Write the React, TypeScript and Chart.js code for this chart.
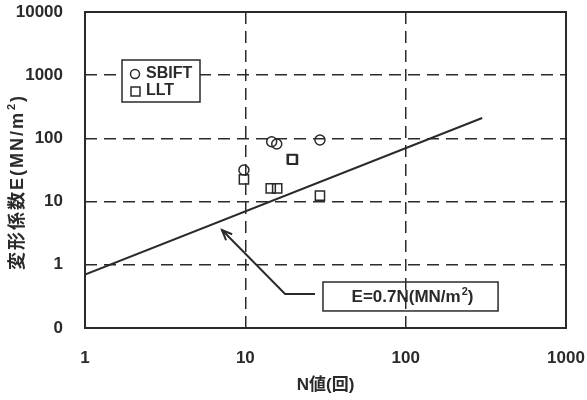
import { useEffect, useRef } from "react";
import { Chart, registerables } from "chart.js";
Chart.register(...registerables);

const xTickValues = [1, 10, 100, 1000];
const xTickLabels = ["1", "10", "100", "1000"];
const yTickValues = [0.1, 1, 10, 100, 1000, 10000];
const yTickLabels = ["0", "1", "10", "100", "1000", "10000"];
const seriesNames = ["SBIFT", "LLT"];
const sbiftN = [9.8, 14.6, 15.7, 29.2];
const sbiftE = [31.6, 88.7, 81.5, 94.5];
const lltN = [9.8, 14.4, 15.8, 19.5, 19.8, 29.2];
const lltE = [22.5, 16.2, 16.2, 47, 46, 12.4];
const fitN = [1, 300];
const fitE = [0.7, 210];
const fitLabel = ["E=0.7N(MN/m", "2", ")"];
const xTitle = "N値(回)";
const yTitle = ["変形係数E(MN/m", "2", ")"];

const INK = "#2a2a2a";
const FONT = "'Liberation Sans', 'Noto Sans CJK JP', Arial, sans-serif";

function drawParts(ctx: any, parts: string[], cx: number, cy: number, size: number, spacing = 0) {
  const big = `bold ${size}px ${FONT}`;
  const small = `bold ${Math.round(size * 0.62)}px ${FONT}`;
  ctx.letterSpacing = `${spacing}px`;
  ctx.font = big;
  const w0 = ctx.measureText(parts[0]).width;
  const w2 = ctx.measureText(parts[2]).width;
  ctx.font = small;
  const w1 = ctx.measureText(parts[1]).width;
  const total = w0 + w1 + 1 + w2;
  let x = cx - total / 2;
  ctx.textAlign = "left";
  ctx.textBaseline = "middle";
  ctx.font = big;
  ctx.fillText(parts[0], x, cy);
  x += w0 + 1;
  ctx.font = small;
  ctx.fillText(parts[1], x, cy - size * 0.35);
  x += w1;
  ctx.font = big;
  ctx.fillText(parts[2], x, cy);
  ctx.letterSpacing = "0px";
}

const decor = {
  id: "decor",
  afterDraw(chart: any) {
    const { ctx, chartArea: a, scales } = chart;
    const xs = scales.x;
    const ys = scales.y;
    const px = (v: number) => xs.getPixelForValue(v);
    const py = (v: number) => ys.getPixelForValue(v);
    ctx.save();
    ctx.setLineDash([]);
    ctx.strokeStyle = INK;
    ctx.fillStyle = INK;
    ctx.lineWidth = 2;
    ctx.strokeRect(a.left, a.top, a.right - a.left, a.bottom - a.top);

    // tick labels
    ctx.font = `bold 17px ${FONT}`;
    ctx.textAlign = "right";
    ctx.textBaseline = "middle";
    yTickValues.forEach((v, i) => ctx.fillText(yTickLabels[i], a.left - 22, py(v)));
    ctx.textAlign = "center";
    xTickValues.forEach((v, i) => ctx.fillText(xTickLabels[i], px(v), a.bottom + 30));

    // axis titles
    ctx.font = `bold 17px ${FONT}`;
    ctx.textAlign = "center";
    ctx.fillText(xTitle, (a.left + a.right) / 2, a.bottom + 57);
    ctx.save();
    ctx.translate(18, (a.top + a.bottom) / 2 + 12);
    ctx.rotate(-Math.PI / 2);
    drawParts(ctx, yTitle, 0, 0, 18, 2);
    ctx.restore();

    // legend
    const lx = a.left + 37, ly = a.top + 48, lw = 78, lh = 42;
    ctx.fillStyle = "#ffffff";
    ctx.fillRect(lx, ly, lw, lh);
    ctx.strokeStyle = INK;
    ctx.lineWidth = 1.5;
    ctx.strokeRect(lx, ly, lw, lh);
    ctx.beginPath();
    ctx.arc(lx + 13, ly + 14, 4.5, 0, Math.PI * 2);
    ctx.stroke();
    ctx.strokeRect(lx + 9, ly + 27, 9, 9);
    ctx.fillStyle = INK;
    ctx.font = `bold 16px ${FONT}`;
    ctx.textAlign = "left";
    ctx.textBaseline = "middle";
    ctx.fillText(seriesNames[0], lx + 24, ly + 14);
    ctx.fillText(seriesNames[1], lx + 24, ly + 31);

    // annotation box
    const bx0 = px(30.5), bx1 = px(377), by0 = py(0.534), by1 = py(0.186);
    ctx.lineWidth = 1.5;
    ctx.strokeRect(bx0, by0, bx1 - bx0, by1 - by0);
    drawParts(ctx, fitLabel, (bx0 + bx1) / 2 + 2, (by0 + by1) / 2 + 1, 17);

    // callout arrow
    const tipX = px(7.15), tipY = py(3.55);
    const elX = px(17.7), elY = py(0.345);
    const endX = px(27.2);
    ctx.lineWidth = 2;
    ctx.beginPath();
    ctx.moveTo(endX, elY);
    ctx.lineTo(elX, elY);
    ctx.lineTo(tipX, tipY);
    ctx.stroke();
    const ang = Math.atan2(elY - tipY, elX - tipX);
    const hl = 11;
    ctx.beginPath();
    ctx.moveTo(tipX + hl * Math.cos(ang - 0.4), tipY + hl * Math.sin(ang - 0.4));
    ctx.lineTo(tipX, tipY);
    ctx.lineTo(tipX + hl * Math.cos(ang + 0.4), tipY + hl * Math.sin(ang + 0.4));
    ctx.stroke();
    ctx.restore();
  },
};

export default function App() {
  const ref = useRef<HTMLCanvasElement>(null);
  useEffect(() => {
    document.body.style.margin = "0";
    const canvas = ref.current;
    if (!canvas) return;
    const gridOpts = {
      color: INK,
      lineWidth: 1.5,
      drawTicks: false,
      tickLength: 0,
    };
    const chart = new Chart(canvas, {
      type: "scatter",
      data: {
        datasets: [
          {
            type: "line",
            label: "fit",
            data: fitN.map((n, i) => ({ x: n, y: fitE[i] })),
            borderColor: INK,
            borderWidth: 2,
            pointRadius: 0,
            fill: false,
          },
          {
            label: seriesNames[0],
            data: sbiftN.map((n, i) => ({ x: n, y: sbiftE[i] })),
            pointStyle: "circle",
            pointRadius: 5,
            borderColor: INK,
            borderWidth: 1.5,
            backgroundColor: "rgba(0,0,0,0)",
          },
          {
            label: seriesNames[1],
            data: lltN.map((n, i) => ({ x: n, y: lltE[i] })),
            pointStyle: "rect",
            pointRadius: 6.5,
            borderColor: INK,
            borderWidth: 1.5,
            backgroundColor: "rgba(0,0,0,0)",
          },
        ],
      } as any,
      options: {
        animation: false,
        responsive: false,
        maintainAspectRatio: false,
        layout: { padding: { left: 85, right: 21, top: 12, bottom: 72 } },
        plugins: { legend: { display: false }, tooltip: { enabled: false } },
        scales: {
          x: {
            type: "logarithmic",
            min: 1,
            max: 1000,
            ticks: { display: false },
            grid: gridOpts,
            border: { display: false, dash: [12, 7] },
            afterBuildTicks: (s: any) => {
              s.ticks = xTickValues.map((v) => ({ value: v }));
            },
          },
          y: {
            type: "logarithmic",
            min: 0.1,
            max: 10000,
            ticks: { display: false },
            grid: gridOpts,
            border: { display: false, dash: [12, 7] },
            afterBuildTicks: (s: any) => {
              s.ticks = yTickValues.map((v) => ({ value: v }));
            },
          },
        },
      } as any,
      plugins: [decor],
    });
    return () => chart.destroy();
  }, []);
  return (
    <div style={{ position: "fixed", left: 0, top: 0, width: 587, height: 400, background: "#fff" }}>
      <canvas ref={ref} width={587} height={400} />
    </div>
  );
}
